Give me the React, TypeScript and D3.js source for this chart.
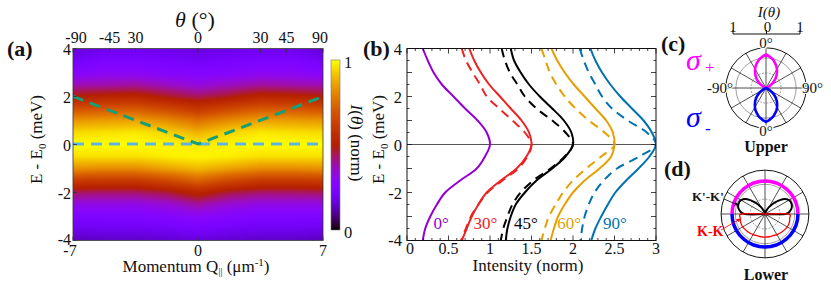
import React, { useMemo } from "react";
import * as d3 from "d3";

const FONT = "Liberation Serif, Times New Roman, DejaVu Serif, serif";

// ---------------- Panel (a) data ----------------
const momentumTicks = [-7, 0, 7];
const energyTicks = [-4, -2, 0, 2, 4];
const thetaTicks = [-90, -45, -30, 0, 30, 45, 90];
const thetaTickLabels = ["-90", "-45", "30", "0", "30", "45", "90"];
const momentumMax = 7;
const mapMomentum = [-7, -5.25, -3.5, -1.75, 0, 1.75, 3.5, 5.25, 7];
const mapEnergy = [4, 3.5, 3, 2.5, 2, 1.5, 1, 0.5, 0, -0.5, -1, -1.5, -2, -2.5, -3, -3.5, -4];
const mapIntensity = [
  [0.15, 0.19, 0.19, 0.18, 0.17, 0.18, 0.19, 0.19, 0.15],
  [0.21, 0.24, 0.24, 0.23, 0.21, 0.23, 0.24, 0.24, 0.21],
  [0.27, 0.29, 0.29, 0.27, 0.26, 0.27, 0.29, 0.29, 0.27],
  [0.37, 0.38, 0.39, 0.36, 0.33, 0.36, 0.39, 0.38, 0.37],
  [0.5, 0.52, 0.53, 0.48, 0.44, 0.48, 0.53, 0.52, 0.5],
  [0.67, 0.69, 0.7, 0.65, 0.59, 0.65, 0.7, 0.69, 0.67],
  [0.84, 0.85, 0.86, 0.82, 0.76, 0.82, 0.86, 0.85, 0.84],
  [0.95, 0.96, 0.97, 0.94, 0.89, 0.94, 0.97, 0.96, 0.95],
  [1.0, 1.0, 1.0, 0.99, 0.97, 0.99, 1.0, 1.0, 1.0],
  [0.96, 0.96, 0.96, 0.98, 0.99, 0.98, 0.96, 0.96, 0.96],
  [0.83, 0.82, 0.82, 0.86, 0.9, 0.86, 0.82, 0.82, 0.83],
  [0.62, 0.61, 0.61, 0.66, 0.73, 0.66, 0.61, 0.61, 0.62],
  [0.44, 0.43, 0.43, 0.46, 0.53, 0.46, 0.43, 0.43, 0.44],
  [0.32, 0.32, 0.32, 0.34, 0.39, 0.34, 0.32, 0.32, 0.32],
  [0.25, 0.25, 0.25, 0.27, 0.29, 0.27, 0.25, 0.25, 0.25],
  [0.19, 0.2, 0.2, 0.21, 0.23, 0.21, 0.2, 0.2, 0.19],
  [0.13, 0.14, 0.14, 0.15, 0.16, 0.15, 0.14, 0.14, 0.13],
];
const guideVMomentum = [-7, 0, 7];
const guideVEnergy = [2, 0.02, 2];
const guideHMomentum = [-7, 7];
const guideHEnergy = [0.02, 0.02];
const colorbarTicks = [0, 1];

// ---------------- Panel (b) data ----------------
const spectraEnergy = [4, 3.5, 3, 2.5, 2, 1.5, 1, 0.5, 0, -0.5, -1, -1.5, -2, -2.5, -3, -3.5, -4];
const solid0 = [0.19, 0.25, 0.32, 0.42, 0.56, 0.7, 0.85, 0.96, 1.0, 0.94, 0.84, 0.64, 0.46, 0.36, 0.28, 0.22, 0.19];
const solid30 = [0.75, 0.81, 0.89, 0.99, 1.12, 1.25, 1.38, 1.47, 1.5, 1.44, 1.32, 1.13, 0.96, 0.86, 0.78, 0.72, 0.66];
const dashed30 = [0.66, 0.71, 0.79, 0.88, 0.96, 1.11, 1.27, 1.42, 1.5, 1.45, 1.34, 1.15, 0.97, 0.86, 0.77, 0.71, 0.65];
const solid45 = [1.25, 1.29, 1.37, 1.47, 1.6, 1.75, 1.89, 1.98, 2.0, 1.91, 1.75, 1.56, 1.42, 1.31, 1.25, 1.21, 1.19];
const dashed45 = [1.14, 1.18, 1.24, 1.33, 1.42, 1.56, 1.75, 1.91, 2.0, 1.9, 1.73, 1.52, 1.37, 1.27, 1.21, 1.16, 1.13];
const solid60 = [1.74, 1.81, 1.9, 2.01, 2.14, 2.27, 2.4, 2.48, 2.5, 2.46, 2.32, 2.14, 2.0, 1.9, 1.82, 1.77, 1.73];
const dashed60 = [1.62, 1.67, 1.72, 1.8, 1.9, 2.03, 2.19, 2.38, 2.5, 2.34, 2.16, 2.0, 1.88, 1.79, 1.71, 1.66, 1.62];
const solid90 = [2.21, 2.27, 2.35, 2.45, 2.57, 2.71, 2.85, 2.95, 3.0, 2.92, 2.79, 2.64, 2.51, 2.42, 2.34, 2.27, 2.22];
const dashed90 = [2.08, 2.13, 2.19, 2.27, 2.35, 2.47, 2.66, 2.89, 3.0, 2.8, 2.53, 2.37, 2.26, 2.19, 2.14, 2.11, 2.09];
const spectraLabels = ["0°", "30°", "45°", "60°", "90°"];
const spectraColors = ["#9400d3", "#ee2222", "#000000", "#e69f00", "#0072b2"];
const spectraLabelIntensity = [0.32, 0.8, 1.29, 1.81, 2.36];
const intensityTicks = [0, 0.5, 1, 1.5, 2, 2.5, 3];
const intensityTickLabels = ["0", "0.5", "1", "1.5", "2", "2.5", "3"];

// ---------------- Panel (c) data ----------------
const lobeAngles = [-70, -65, -60, -55, -50, -45, -40, -35, -30, -25, -20, -15, -10, -5, 0, 5, 10, 15, 20, 25, 30, 35, 40, 45, 50, 55, 60, 65, 70];
const sigmaPlus = [0, 0.03, 0.13, 0.22, 0.31, 0.4, 0.49, 0.57, 0.65, 0.73, 0.79, 0.86, 0.91, 0.96, 1.0, 0.96, 0.91, 0.86, 0.79, 0.73, 0.65, 0.57, 0.49, 0.4, 0.31, 0.22, 0.13, 0.03, 0];
const sigmaMinus = [0, 0.04, 0.13, 0.23, 0.32, 0.41, 0.5, 0.58, 0.66, 0.74, 0.8, 0.87, 0.92, 0.97, 1.01, 0.97, 0.92, 0.87, 0.8, 0.74, 0.66, 0.58, 0.5, 0.41, 0.32, 0.23, 0.13, 0.04, 0];
const polarGridC = [0.45, 0.9];
const polarOuterC = 1.2;
const spokeAngles = [0, 30, 60, 90, 120, 150, 180, 210, 240, 270, 300, 330];
const topAxisTicks = [-1, 0, 1];

// ---------------- Panel (d) data ----------------
const halfAngles = [-90, -80, -70, -60, -50, -40, -30, -20, -10, 0, 10, 20, 30, 40, 50, 60, 70, 80, 90];
const upperRing = halfAngles.map(() => 1);
const lowerRing = halfAngles.map(() => 1);
const kLobeAngles = [-100, -90, -80, -70, -60, -50, -40, -30, -20, -10, 0, 10, 20, 30, 40, 50, 60, 70, 80, 90, 100];
const kPrimeLobe = [0, 0.62, 0.8, 0.86, 0.84, 0.7, 0.45, 0.24, 0.1, 0.03, 0, 0.03, 0.1, 0.24, 0.45, 0.7, 0.84, 0.86, 0.8, 0.62, 0];
const kkLobe = [0, 0.7, 0.76, 0.78, 0.78, 0.76, 0.74, 0.72, 0.7, 0.7, 0.7, 0.7, 0.7, 0.72, 0.74, 0.76, 0.78, 0.78, 0.76, 0.7, 0];
const polarGridD = [0.45, 0.9];
const polarOuterD = 1.33;

function gnuplot(t: number): [number, number, number] {
  const c = Math.max(0, Math.min(1, t));
  const r = Math.sqrt(c);
  const g = c * c * c;
  const b = Math.max(0, Math.sin(2 * Math.PI * c));
  return [Math.round(r * 255), Math.round(g * 255), Math.round(b * 255)];
}
const gnuplotCss = (t: number) => {
  const [r, g, b] = gnuplot(t);
  return `rgb(${r},${g},${b})`;
};

function Heatmap({ x, y }: { x: any; y: any }) {
  const [x0, x1] = x.range();
  const [y1, y0] = y.range();
  const w = Math.round(x1 - x0);
  const h = Math.round(y1 - y0);
  const url = useMemo(() => {
    if (typeof document === "undefined") return "";
    const canvas = document.createElement("canvas");
    canvas.width = w;
    canvas.height = h;
    const ctx = canvas.getContext("2d");
    if (!ctx) return "";
    const img = ctx.createImageData(w, h);
    const col = d3.scaleLinear().domain(mapMomentum).range(d3.range(mapMomentum.length)).clamp(true);
    const row = d3.scaleLinear().domain(mapEnergy).range(d3.range(mapEnergy.length)).clamp(true);
    const nc = mapMomentum.length, nr = mapEnergy.length;
    for (let py = 0; py < h; py++) {
      const fr = row(y.invert(y0 + py + 0.5));
      const r0 = Math.min(nr - 2, Math.floor(fr));
      const tr = fr - r0;
      for (let px = 0; px < w; px++) {
        const fc = col(x.invert(x0 + px + 0.5));
        const c0 = Math.min(nc - 2, Math.floor(fc));
        const tc = fc - c0;
        const v =
          mapIntensity[r0][c0] * (1 - tr) * (1 - tc) +
          mapIntensity[r0][c0 + 1] * (1 - tr) * tc +
          mapIntensity[r0 + 1][c0] * tr * (1 - tc) +
          mapIntensity[r0 + 1][c0 + 1] * tr * tc;
        const [rr, gg, bb] = gnuplot(v);
        const k = (py * w + px) * 4;
        img.data[k] = rr;
        img.data[k + 1] = gg;
        img.data[k + 2] = bb;
        img.data[k + 3] = 255;
      }
    }
    ctx.putImageData(img, 0, 0);
    return canvas.toDataURL();
  }, [w, h]);
  return <image href={url} x={x0} y={y0} width={w} height={h} preserveAspectRatio="none" />;
}

function polarPoint(cx: number, cy: number, r: number, deg: number) {
  const a = (deg * Math.PI) / 180;
  return [cx + r * Math.sin(a), cy - r * Math.cos(a)];
}

function PolarGrid({ cx, cy, rs, grid, outer }: any) {
  return (
    <g>
      {grid.map((g: number, i: number) => (
        <circle key={"g" + i} cx={cx} cy={cy} r={rs(g)} fill="none" stroke="#888" strokeWidth={0.8} strokeDasharray={i === 0 ? "2 1.5" : "none"} />
      ))}
      {spokeAngles.map((a) => {
        const [x2, y2] = polarPoint(cx, cy, rs(outer), a);
        return <line key={"s" + a} x1={cx} y1={cy} x2={x2} y2={y2} stroke="#222" strokeWidth={0.8} />;
      })}
      <circle cx={cx} cy={cy} r={rs(outer)} fill="none" stroke="#111" strokeWidth={1} />
    </g>
  );
}

export default function App() {
  // Panel (a)
  const xQ = d3.scaleLinear().domain([-7, 7]).range([73, 323]);
  const yE = d3.scaleLinear().domain([-4, 4]).range([240.5, 48.5]);
  const thetaX = (t: number) => xQ(momentumMax * Math.sin((t * Math.PI) / 180));
  const guideLine = d3.line<number>().x((d) => xQ(d)).y((_, i) => yE(guideVEnergy[i]));
  const guideHLine = d3.line<number>().x((d) => xQ(d)).y((_, i) => yE(guideHEnergy[i]));

  // colorbar
  const cbX = 331, cbW = 9;
  const yCb = d3.scaleLinear().domain([0, 1]).range([230, 60]);
  const cbStops = d3.range(0, 1.0001, 0.025);

  // Panel (b)
  const xI = d3.scaleLinear().domain([0, 3]).range([407, 656]);
  const yB = d3.scaleLinear().domain([-4, 4]).range([240.5, 48.5]);
  const spectrumLine = (vals: number[]) =>
    d3
      .line<number>()
      .x((d) => xI(d))
      .y((_, i) => yB(spectraEnergy[i]))
      .curve(d3.curveCatmullRom.alpha(0.5))(vals) || "";
  const solids = [solid0, solid30, solid45, solid60, solid90];
  const dashes = [null, dashed30, dashed45, dashed60, dashed90];
  const minorI = d3.range(0, 3.0001, 0.1);
  const majorE = d3.range(-4, 4.0001, 1);
  const minorE = d3.range(-4, 4.0001, 0.5);

  // Panel (c)
  const cxC = 766, cyC = 88;
  const rC = d3.scaleLinear().domain([0, 1]).range([0, 33.5]);
  const radial = (rs: any, rot: number) =>
    d3
      .lineRadial<number>()
      .angle((_, i) => ((lobeAngles[i] + rot) * Math.PI) / 180)
      .radius((d) => rs(d));
  const topAxis = d3.scaleLinear().domain([-1, 1]).range([733, 800]);

  // Panel (d)
  const cxD = 765, cyD = 214;
  const rD = d3.scaleLinear().domain([0, 1]).range([0, 33]);
  const ringLine = (angles: number[], rot: number) =>
    d3
      .lineRadial<number>()
      .angle((_, i) => ((angles[i] + rot) * Math.PI) / 180)
      .radius((d) => rD(d));

  const text = { fontFamily: FONT, fill: "#111" } as const;

  return (
    <svg
      width={831}
      height={291}
      viewBox="0 0 831 291"
      fontFamily={FONT}
      style={{ display: "block", position: "absolute", left: 0, top: 0, background: "#fff", fontFamily: FONT }}
    >
      <defs>
        <clipPath id="clipA">
          <rect x={73} y={48.5} width={250} height={192} />
        </clipPath>
        <clipPath id="clipB">
          <rect x={407} y={48.5} width={249} height={192} />
        </clipPath>
        <linearGradient id="cbGrad" x1="0" y1="1" x2="0" y2="0">
          {cbStops.map((t) => (
            <stop key={t} offset={t} stopColor={gnuplotCss(t)} />
          ))}
        </linearGradient>
        <marker id="arrBlack" viewBox="0 0 6 6" refX="5" refY="3" markerWidth="5" markerHeight="5" orient="auto">
          <path d="M0,0 L6,3 L0,6 z" fill="#000" />
        </marker>
        <marker id="arrRed" viewBox="0 0 6 6" refX="5" refY="3" markerWidth="5" markerHeight="5" orient="auto">
          <path d="M0,0 L6,3 L0,6 z" fill="#f00" />
        </marker>
      </defs>

      {/* ============ Panel (a) ============ */}
      <g clipPath="url(#clipA)">
        <Heatmap x={xQ} y={yE} />
        <path d={guideHLine(guideHMomentum) || ""} fill="none" stroke="#5ab4e5" strokeWidth={3} strokeDasharray="11 7" />
        <path d={guideLine(guideVMomentum) || ""} fill="none" stroke="#159e78" strokeWidth={3} strokeDasharray="11 7" />
      </g>
      <rect x={73} y={48.5} width={250} height={192} fill="none" stroke="#333" strokeWidth={0.8} />
      {energyTicks.map((e) => (
        <g key={"ae" + e}>
          <line x1={73} x2={77} y1={yE(e)} y2={yE(e)} stroke="#333" strokeWidth={0.8} />
          <text x={71} y={yE(e) + (e === -4 ? 4.5 : e === 4 ? 6.5 : 6)} textAnchor="end" fontSize={16} {...text}>
            {e}
          </text>
        </g>
      ))}
      {momentumTicks.map((q) => (
        <g key={"aq" + q}>
          <line x1={xQ(q)} x2={xQ(q)} y1={240.5} y2={236.5} stroke="#333" strokeWidth={0.8} />
          <text x={xQ(q) - (q < 0 ? 3 : 0)} y={256} textAnchor="middle" fontSize={16} {...text}>
            {q}
          </text>
        </g>
      ))}
      {thetaTicks.map((t, i) => (
        <g key={"at" + i}>
          <line x1={thetaX(t)} x2={thetaX(t)} y1={48.5} y2={52.5} stroke="#333" strokeWidth={0.8} />
          <text x={thetaX(t) + (t === 90 ? -3 : t === -90 ? 3 : 0)} y={43} textAnchor="middle" fontSize={16} {...text}>
            {thetaTickLabels[i]}
          </text>
        </g>
      ))}
      <text x={195} y={27} textAnchor="middle" fontSize={22} {...text}>
        <tspan fontStyle="italic">θ</tspan> (°)
      </text>
      <text x={196} y={272} textAnchor="middle" fontSize={17} {...text}>
        Momentum Q<tspan dy={3} fontSize={10}>||</tspan>
        <tspan dy={-3}> (μm</tspan>
        <tspan dy={-6} fontSize={11}>-1</tspan>
        <tspan dy={6}>)</tspan>
      </text>
      <text transform="translate(42,139.5) rotate(-90)" textAnchor="middle" fontSize={17} {...text}>
        E - E<tspan dy={4} fontSize={11}>0</tspan>
        <tspan dy={-4}> (meV)</tspan>
      </text>
      <text x={7} y={56} fontSize={22} fontWeight="bold" {...text}>
        (a)
      </text>

      {/* colorbar */}
      <rect x={cbX} y={60} width={cbW} height={170} fill="url(#cbGrad)" stroke="#777" strokeWidth={0.6} />
      {colorbarTicks.map((t) => (
        <text key={"cb" + t} x={344} y={yCb(t) + 8} fontSize={16.5} {...text}>
          {t}
        </text>
      ))}
      <text transform="translate(351,143) rotate(90)" textAnchor="middle" fontSize={17} {...text}>
        <tspan fontStyle="italic">I</tspan>(<tspan fontStyle="italic">θ</tspan>) (norm)
      </text>

      {/* ============ Panel (b) ============ */}
      <g clipPath="url(#clipB)">
        <line x1={407} x2={656} y1={yB(0)} y2={yB(0)} stroke="#555" strokeWidth={1} />
        {solids.map((s, i) => {
          const dd = dashes[i];
          return (
            <g key={"sp" + i}>
              {dd && <path d={spectrumLine(dd)} fill="none" stroke={spectraColors[i]} strokeWidth={2} strokeDasharray="9 6" />}
              <path d={spectrumLine(s)} fill="none" stroke={spectraColors[i]} strokeWidth={2} />
            </g>
          );
        })}
      </g>
      <rect x={407} y={48.5} width={249} height={192} fill="none" stroke="#111" strokeWidth={1} />
      {minorI.map((v, i) => {
        const major = i % 5 === 0;
        const len = major ? 5 : 2.5;
        return (
          <g key={"bi" + i}>
            <line x1={xI(v)} x2={xI(v)} y1={240.5} y2={240.5 - len} stroke="#111" strokeWidth={0.8} />
            <line x1={xI(v)} x2={xI(v)} y1={48.5} y2={48.5 + len} stroke="#111" strokeWidth={0.8} />
          </g>
        );
      })}
      {minorE.map((e, i) => {
        const major = i % 2 === 0;
        const len = major ? 5 : 2.5;
        return (
          <g key={"be" + i}>
            <line x1={407} x2={407 + len} y1={yB(e)} y2={yB(e)} stroke="#111" strokeWidth={0.8} />
            <line x1={656} x2={656 - len} y1={yB(e)} y2={yB(e)} stroke="#111" strokeWidth={0.8} />
          </g>
        );
      })}
      {majorE
        .filter((e) => e % 2 === 0)
        .map((e) => (
          <text key={"bel" + e} x={402} y={yB(e) + (e === -4 ? 5 : 6)} textAnchor="end" fontSize={16.5} {...text}>
            {e}
          </text>
        ))}
      {intensityTicks.map((v, i) => (
        <text key={"bil" + i} x={xI(v) + (i === 0 ? 3 : 0)} y={254} textAnchor="middle" fontSize={16} {...text}>
          {intensityTickLabels[i]}
        </text>
      ))}
      <text x={528} y={271} textAnchor="middle" fontSize={17} {...text}>
        Intensity (norm)
      </text>
      <text transform="translate(384,139.5) rotate(-90)" textAnchor="middle" fontSize={17} {...text}>
        E - E<tspan dy={4} fontSize={11}>0</tspan>
        <tspan dy={-4}> (meV)</tspan>
      </text>
      {spectraLabels.map((l, i) => (
        <text key={"sl" + i} x={xI(spectraLabelIntensity[i])} y={229} fontSize={17} fontFamily={FONT} fill={spectraColors[i]}>
          {l}
        </text>
      ))}
      <text x={363} y={56} fontSize={22} fontWeight="bold" {...text}>
        (b)
      </text>

      {/* ============ Panel (c) ============ */}
      <PolarGrid cx={cxC} cy={cyC} rs={rC} grid={polarGridC} outer={polarOuterC} />
      <g transform={`translate(${cxC},${cyC})`}>
        <path d={radial(rC, 0)(sigmaPlus) + "Z"} fill="none" stroke="#ff00ff" strokeWidth={2.6} strokeLinejoin="round" />
        <path d={radial(rC, 180)(sigmaMinus) + "Z"} fill="none" stroke="#0000ff" strokeWidth={2.6} strokeLinejoin="round" />
      </g>
      <text x={cxC} y={48} textAnchor="middle" fontSize={15} {...text} stroke="#fff" strokeWidth={3} paintOrder="stroke">
        0°
      </text>
      <text x={cxC} y={136} textAnchor="middle" fontSize={15} {...text} stroke="#fff" strokeWidth={3} paintOrder="stroke">
        0°
      </text>
      <text x={733} y={93} textAnchor="end" fontSize={15} {...text} stroke="#fff" strokeWidth={2} paintOrder="stroke">
        -90°
      </text>
      <text x={802} y={93} fontSize={15} {...text} stroke="#fff" strokeWidth={2} paintOrder="stroke">
        90°
      </text>
      <line x1={topAxis(-1)} x2={topAxis(1)} y1={34} y2={34} stroke="#111" strokeWidth={1} />
      {topAxisTicks.map((t) => (
        <g key={"ta" + t}>
          <line x1={topAxis(t)} x2={topAxis(t)} y1={34} y2={30} stroke="#111" strokeWidth={1} />
          <text x={topAxis(t) + (t === 0 ? 1 : 0)} y={32} textAnchor="middle" fontSize={15} {...text}>
            {Math.abs(t)}
          </text>
        </g>
      ))}
      <text x={769} y={17} textAnchor="middle" fontSize={15} fontStyle="italic" {...text}>
        I(θ)
      </text>
      <text x={686} y={70} fontSize={30} fontStyle="italic" fontFamily={FONT} fill="#ff00ff">
        σ
      </text>
      <text x={705} y={73} fontSize={17} fontFamily={FONT} fill="#ff00ff">
        +
      </text>
      <text x={686} y={127} fontSize={30} fontStyle="italic" fontFamily={FONT} fill="#0000ff">
        σ
      </text>
      <text x={705} y={134} fontSize={17} fontFamily={FONT} fill="#0000ff">
        -
      </text>
      <text x={766} y={152} textAnchor="middle" fontSize={16} fontWeight="bold" {...text}>
        Upper
      </text>
      <text x={661} y={51} fontSize={22} fontWeight="bold" {...text}>
        (c)
      </text>

      {/* ============ Panel (d) ============ */}
      <PolarGrid cx={cxD} cy={cyD} rs={rD} grid={polarGridD} outer={polarOuterD} />
      <g transform={`translate(${cxD},${cyD})`}>
        <path d={ringLine(halfAngles, 0)(upperRing) || ""} fill="none" stroke="#ff00ff" strokeWidth={3.5} />
        <path d={ringLine(halfAngles, 180)(lowerRing) || ""} fill="none" stroke="#0000ff" strokeWidth={3.5} />
        <path
          d={(d3.lineRadial<number>().angle((_, i) => (kLobeAngles[i] * Math.PI) / 180).radius((d) => rD(d)).curve(d3.curveCardinal)(kPrimeLobe) || "")}
          fill="none"
          stroke="#000"
          strokeWidth={2}
        />
        <path
          d={(d3.lineRadial<number>().angle((_, i) => ((kLobeAngles[i] + 180) * Math.PI) / 180).radius((d) => rD(d)).curve(d3.curveCardinal)(kkLobe) || "")}
          fill="none"
          stroke="#ff0000"
          strokeWidth={1.3}
        />
      </g>
      <text x={692} y={201} fontSize={13} fontWeight="bold" {...text}>
        K'-K'
      </text>
      <line x1={724} y1={199} x2={738} y2={205} stroke="#000" strokeWidth={0.8} markerEnd="url(#arrBlack)" />
      <text x={697} y={236} fontSize={14} fontWeight="bold" fontFamily={FONT} fill="#ff0000">
        K-K
      </text>
      <line x1={721} y1={230} x2={740} y2={219} stroke="#ff0000" strokeWidth={0.8} markerEnd="url(#arrRed)" />
      <text x={766} y={280} textAnchor="middle" fontSize={16} fontWeight="bold" {...text}>
        Lower
      </text>
      <text x={664} y={176} fontSize={22} fontWeight="bold" {...text}>
        (d)
      </text>
    </svg>
  );
}
